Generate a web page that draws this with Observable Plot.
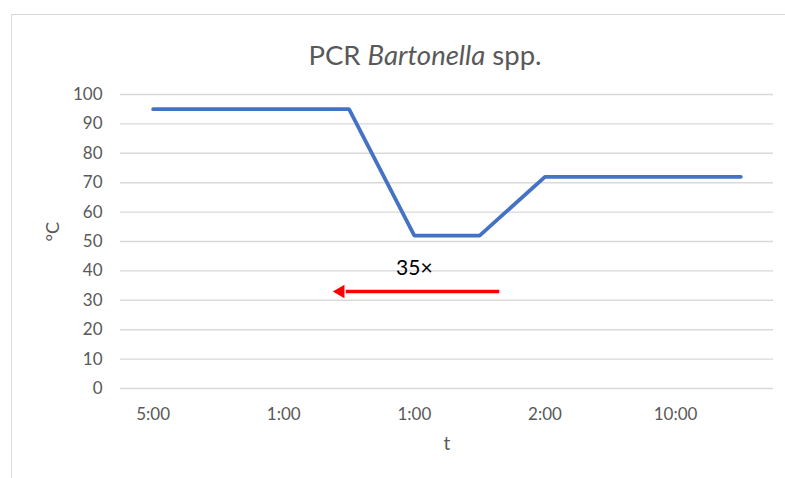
<!DOCTYPE html>
<html>
<head>
<meta charset="utf-8">
<script src="https://cdn.jsdelivr.net/npm/d3@7"></script>
<script src="https://cdn.jsdelivr.net/npm/@observablehq/plot@0.6"></script>
<style>
  html, body { margin: 0; padding: 0; background: #fff; }
  #wrap { position: relative; width: 785px; height: 478px; overflow: hidden; font-family: Lato, "Open Sans", sans-serif; }
  #frame { position: absolute; left: 11px; top: 14px; width: 900px; height: 600px; border: 1.5px solid #d9d9d9; box-sizing: border-box; }
  #title { position: absolute; left: 11px; width: 828px; top: 41px; text-align: center; font-size: 27.5px; line-height: 1; color: #595959; white-space: nowrap; }
  #chart { position: absolute; left: 0; top: 0; }
</style>
</head>
<body>
<div id="wrap">
  <div id="frame"></div>
  <div id="chart"></div>
  <div id="title">PCR <i>Bartonella</i> spp.</div>
</div>
<script>
// Temperature profile (step positions on a 10-slot category axis)
const stepIndex = [0, 3, 4, 5, 6, 9];
const tempC = [95, 95, 52, 52, 72, 72];

// X-axis tick positions and labels (hold times)
const tickIndex = [0, 2, 4, 6, 8];
const tickLabels = ["5:00", "1:00", "1:00", "2:00", "10:00"];

// Y-axis ticks
const yTicks = [0, 10, 20, 30, 40, 50, 60, 70, 80, 90, 100];

// Cycle annotation
const cycleText = ["35×"];
const cycleX = [4];
const cycleY = [41];
const arrowFrom = [5.3];
const arrowTo = [2.95];
const arrowHeadX = [2.87];
const arrowY = [33];

const profile = stepIndex.map((x, i) => ({x, y: tempC[i]}));
const cycle = cycleText.map((t, i) => ({t, x: cycleX[i], y: cycleY[i]}));
const arrow = arrowFrom.map((x1, i) => ({x1, x2: arrowTo[i], hx: arrowHeadX[i], y: arrowY[i]}));

const plot = Plot.plot({
  width: 785,
  height: 478,
  marginLeft: 120,
  marginRight: 12,
  marginTop: 94,
  marginBottom: 90,
  style: {fontFamily: "Lato, 'Open Sans', sans-serif", fontSize: "17px", color: "#595959", background: "transparent", overflow: "visible"},
  x: {type: "linear", domain: [-0.5, 9.5]},
  y: {domain: [0, 100]},
  marks: [
    Plot.gridY(yTicks, {stroke: "#d9d9d9", strokeOpacity: 1, strokeWidth: 1.4}),
    Plot.axisY({ticks: yTicks, tickSize: 0, tickPadding: 18, label: null, fontSize: 17}),
    Plot.axisX({ticks: tickIndex, tickSize: 0, tickPadding: 19, label: null, fontSize: 17,
      tickFormat: d => tickLabels[tickIndex.indexOf(d)]}),
    Plot.text(["°C"], {frameAnchor: "left", dx: -67, rotate: -90, fontSize: 18, fill: "#595959"}),
    Plot.text(["t"], {frameAnchor: "bottom", dy: 61, fontSize: 19, fill: "#595959"}),
    Plot.line(profile, {x: "x", y: "y", stroke: "#4472C4", strokeWidth: 3.8, strokeLinecap: "round", strokeLinejoin: "miter"}),
    Plot.link(arrow, {x1: "x1", x2: "x2", y1: "y", y2: "y", stroke: "#ff0000", strokeWidth: 3.5}),
    Plot.dot(arrow, {x: "hx", y: "y", symbol: "triangle", r: 5, rotate: -90, fill: "#ff0000", stroke: "none"}),
    Plot.text(cycle, {x: "x", y: "y", text: "t", fontSize: 21, fill: "#000000"})
  ]
});
document.getElementById("chart").appendChild(plot);
</script>
</body>
</html>
